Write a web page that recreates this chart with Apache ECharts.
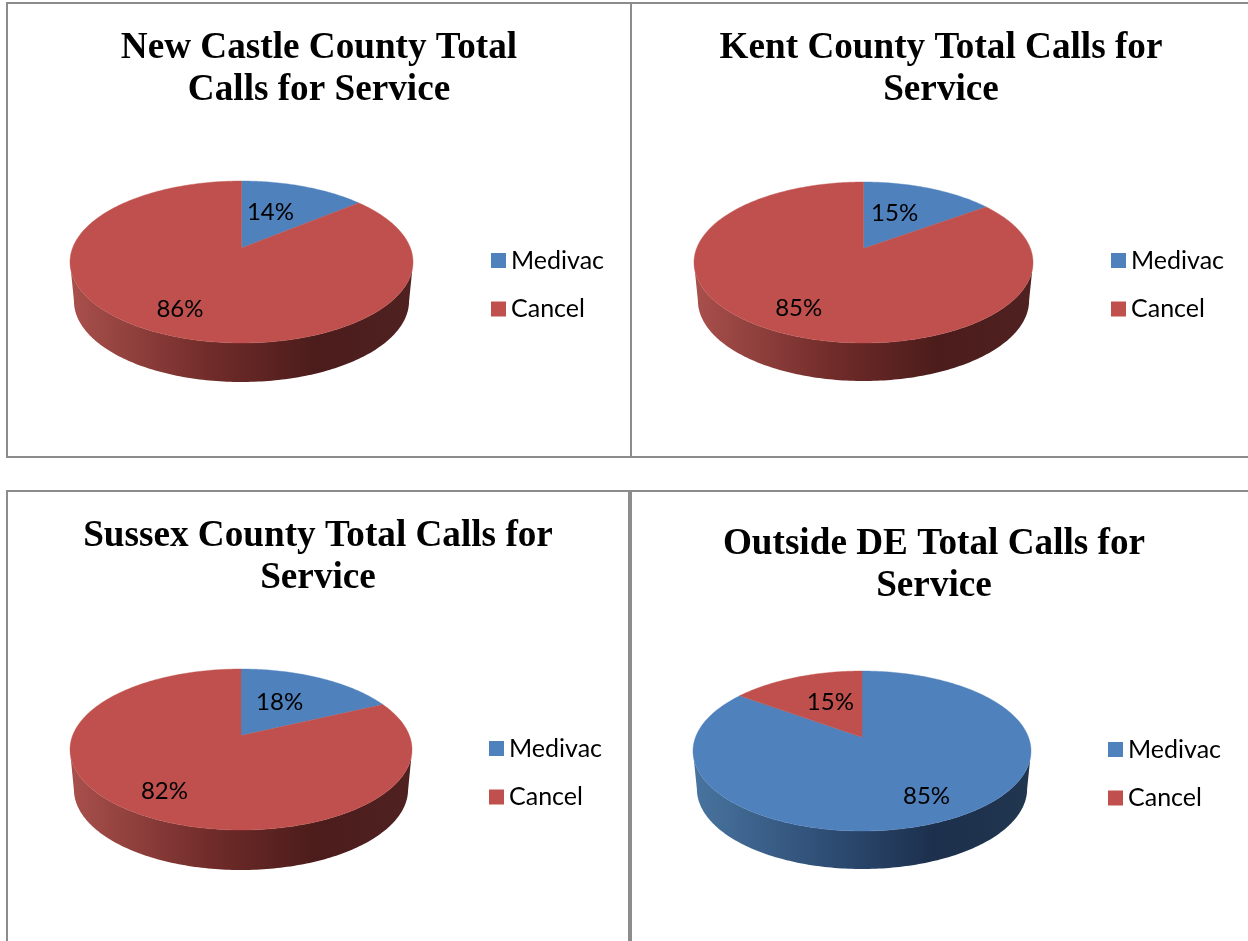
<!DOCTYPE html>
<html><head><meta charset="utf-8">
<style>html,body{margin:0;padding:0;background:#fff}#c{width:1248px;height:941px}</style>
<script src="https://cdn.jsdelivr.net/npm/echarts@6/dist/echarts.min.js"></script>
</head><body><div id="c"></div>
<script>
// ---- data ----
const pieTitles = [
  'New Castle County Total\nCalls for Service',
  'Kent County Total Calls for\nService',
  'Sussex County Total Calls for\nService',
  'Outside DE Total Calls for\nService'
];
const categories = ['Medivac', 'Cancel'];
const medivacPct = [14, 15, 18, 85];
const cancelPct  = [86, 85, 82, 15];

// ---- layout and style ----
const geometry = [
  {cx:241.5, cy:262,   rx:171.5, ry:81,   depth:39, titleX:319, titleY:27.5,  legendX:491,  legendY:246},
  {cx:863.5, cy:262.5, rx:169.5, ry:80.5, depth:38, titleX:941, titleY:27.5,  legendX:1111, legendY:246},
  {cx:241,   cy:749.5, rx:171,   ry:80.5, depth:40, titleX:318, titleY:515.5, legendX:489,  legendY:734},
  {cx:862,   cy:751,   rx:169,   ry:80,   depth:38, titleX:934, titleY:523.5, legendX:1108, legendY:735}
];
const tilt = -0.173;
const colors = {Medivac:'#4F81BD', Cancel:'#BF504D'};
const wallStops = {
  Medivac:['#48749F','#2D4B72','#1C2F4C','#21364F'],
  Cancel:['#A9504C','#6F2B29','#4B1C1B','#4F2120']
};
const serifFont = '"Liberation Serif"';
const sansFont = 'Lato';

// Perspective map of a point on the unit disc (angle in degrees clockwise from top).
function project(deg, r) {
  const a = deg * Math.PI / 180;
  const x = r * Math.sin(a), y = -r * Math.cos(a);
  const d = 1 + tilt * y;
  return [x * Math.sqrt(1 - tilt * tilt) / d, (y + tilt) / d];
}
function renderSlice(params, api) {
  const g = geometry[api.value(2)];
  const name = categories[api.value(3)];
  const value = api.value(0), start = api.value(1) * 3.6, end = start + value * 3.6;
  const top = [], front = [];
  const steps = Math.max(2, Math.ceil(end - start));
  for (let i = 0; i <= steps; i++) {
    const q = project(start + (end - start) * i / steps, 1);
    top.push([g.cx + q[0] * g.rx, g.cy + q[1] * g.ry]);
    if (q[1] >= -0.002) front.push(q);
  }
  const apex = project(0, 0);
  const children = [];
  if (front.length > 1) {
    const upper = front.map(q => [g.cx + q[0] * g.rx, g.cy + q[1] * g.ry]);
    const lower = front.map(q => [g.cx + q[0] * g.rx * 0.977, g.cy + q[1] * g.ry + g.depth]).reverse();
    const s = wallStops[name];
    children.push({type:'polygon', shape:{points:upper.concat(lower)}, style:{
      fill:new echarts.graphic.LinearGradient(0,0,1,0,[
        {offset:0,color:s[0]},{offset:0.42,color:s[1]},{offset:0.72,color:s[2]},{offset:1,color:s[3]}
      ])
    }});
  }
  children.push({type:'polygon', z2:5,
    shape:{points:[[g.cx + apex[0]*g.rx, g.cy + apex[1]*g.ry]].concat(top)},
    style:{fill:colors[name], stroke:colors[name], lineWidth:0.4}});
  let mid = (start + end) / 2, radius = 0.755, dy = 0;
  if (value < 50) { radius = 0.54; dy = 1; mid += mid > 180 ? 4.5 : -5; }
  const l = project(mid, radius);
  children.push({type:'text', z2:10, style:{
    text:value + '%', x:g.cx + l[0]*g.rx, y:g.cy + l[1]*g.ry + dy,
    textAlign:'center', textVerticalAlign:'middle',
    fontFamily:sansFont, fontSize:24, fill:'#000'
  }});
  return {type:'group', children};
}

const series = [];
pieTitles.forEach((t, i) => {
  const vals = [medivacPct[i], cancelPct[i]];
  [0, 1].forEach(c => {
    series.push({
      type:'custom', coordinateSystem:'none', name:categories[c],
      itemStyle:{color:colors[categories[c]]},
      renderItem:renderSlice, silent:true, clip:false,
      data:[[vals[c], c === 0 ? 0 : vals[0], i, c]]
    });
  });
});

const borders = [
  [6,2,1242,2],[6,2,2,455],[6,456,1242,2],[630,2,2,455],
  [6,490,1242,2],[6,490,2,451],[628,490,4,451]
];
const chart = echarts.init(document.getElementById('c'), null, {renderer:'canvas'});
chart.setOption({
  animation:false, backgroundColor:'#fff',
  title:pieTitles.map((t, i) => ({
    text:t, left:geometry[i].titleX, top:geometry[i].titleY, textAlign:'center', padding:0,
    textStyle:{fontFamily:serifFont, fontWeight:'bold', fontSize:37.2, lineHeight:42, color:'#000'}
  })),
  legend:pieTitles.map((t, i) => ({
    data:categories, orient:'vertical', left:geometry[i].legendX, top:geometry[i].legendY, padding:0,
    icon:'rect', itemWidth:15, itemHeight:15, itemGap:19.5, selectedMode:false,
    textStyle:{fontFamily:sansFont, fontSize:25, lineHeight:29, color:'#000', padding:[0,0,0,0]}
  })),
  graphic:{elements:borders.map(b => ({type:'rect', silent:true, shape:{x:b[0],y:b[1],width:b[2],height:b[3]}, style:{fill:'#8C8C8C'}}))},
  series
});
</script></body></html>
